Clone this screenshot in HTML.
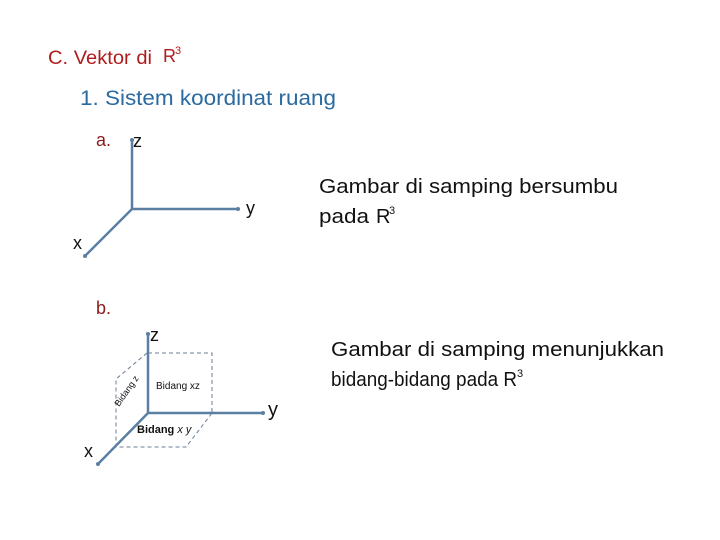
<!DOCTYPE html>
<html><head><meta charset="utf-8"><style>
html,body{margin:0;padding:0;background:#fff;}
svg{display:block;font-family:"Liberation Sans",sans-serif;}
</style></head><body>
<svg width="720" height="540" viewBox="0 0 720 540" xmlns="http://www.w3.org/2000/svg">
<rect width="720" height="540" fill="#fff"/>
<text x="48" y="64" font-size="19" fill="#b01c1c" textLength="104" lengthAdjust="spacingAndGlyphs">C. Vektor di</text>
<text x="163" y="62" font-size="18" fill="#b01c1c">R</text>
<text x="175" y="54" font-size="11" fill="#b01c1c">3</text>
<text x="80" y="105" font-size="21" fill="#2a6aa0" textLength="256" lengthAdjust="spacingAndGlyphs">1.  Sistem koordinat ruang</text>
<text x="96" y="146" font-size="18" fill="#8b1a1a">a.</text>
<text x="96" y="314" font-size="18" fill="#8b1a1a">b.</text>
<g stroke="#5a7fa3" stroke-width="2.5" fill="none">
<line x1="132" y1="209" x2="132" y2="140"/>
<line x1="132" y1="209" x2="238" y2="209"/>
<line x1="132" y1="209" x2="85" y2="256"/>
</g>
<g fill="#5a7fa3"><circle cx="132" cy="140" r="2"/><circle cx="238" cy="209" r="2"/><circle cx="85" cy="256" r="2"/></g>
<text x="133" y="147" font-size="18" fill="#111">z</text>
<text x="246" y="214" font-size="18" fill="#111">y</text>
<text x="73" y="249" font-size="18" fill="#111">x</text>
<text x="319" y="193" font-size="20" fill="#111" textLength="299" lengthAdjust="spacingAndGlyphs">Gambar di samping  bersumbu</text>
<text x="319" y="223" font-size="20" fill="#111" textLength="50" lengthAdjust="spacingAndGlyphs">pada</text>
<text x="376" y="223" font-size="20" fill="#111">R</text>
<text x="389" y="214" font-size="11" fill="#111">3</text>
<g stroke="#6b7f99" stroke-width="1" stroke-dasharray="4,3" fill="none">
<polyline points="148,353 212,353 212,413"/>
<polyline points="147,353 116,379 116,447 186,447 212,413"/>
</g>
<g stroke="#5a7fa3" stroke-width="2.5" fill="none">
<line x1="148" y1="413" x2="148" y2="334"/>
<line x1="148" y1="413" x2="263" y2="413"/>
<line x1="148" y1="413" x2="98" y2="464"/>
</g>
<g fill="#5a7fa3"><circle cx="148" cy="334" r="2"/><circle cx="263" cy="413" r="2"/><circle cx="98" cy="464" r="2"/></g>
<text x="150" y="341" font-size="18" fill="#111">z</text>
<text x="268" y="416" font-size="20" fill="#111">y</text>
<text x="84" y="457" font-size="18" fill="#111">x</text>
<text x="156" y="389" font-size="10" fill="#111">Bidang xz</text>
<text x="137" y="433" font-size="11" font-weight="bold" fill="#111">Bidang <tspan font-weight="normal" font-style="italic">x y</tspan></text>
<text x="0" y="0" font-size="9" fill="#111" transform="translate(119,407) rotate(-55)">Bidang z</text>
<text x="331" y="356" font-size="20" fill="#111" textLength="333" lengthAdjust="spacingAndGlyphs">Gambar di samping  menunjukkan</text>
<text x="331" y="386" font-size="20" fill="#111" textLength="186" lengthAdjust="spacingAndGlyphs">bidang-bidang pada R</text>
<text x="517" y="377" font-size="11" fill="#111">3</text>
</svg>
</body></html>
